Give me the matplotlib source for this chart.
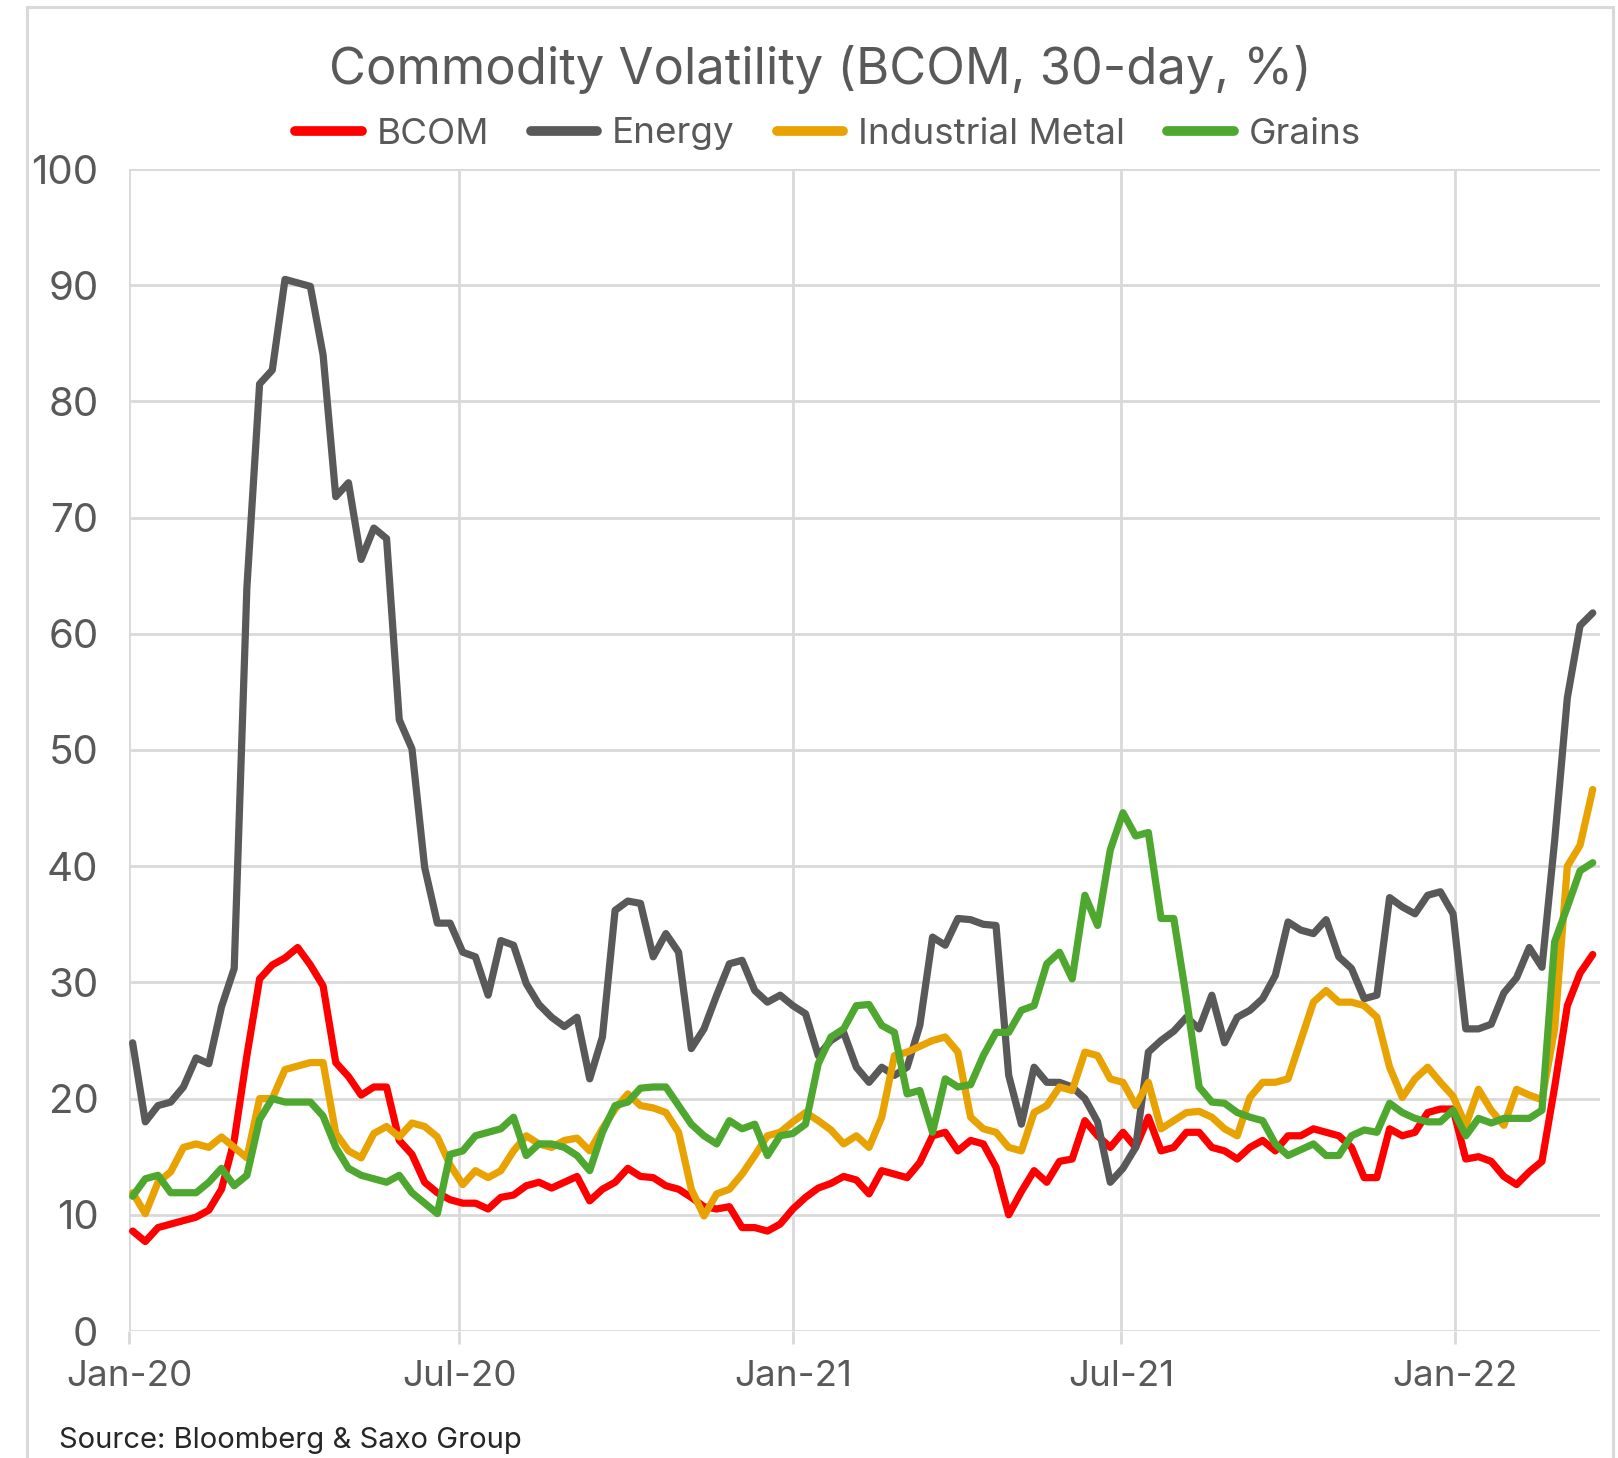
import matplotlib
matplotlib.use("Agg")
import matplotlib.pyplot as plt
from matplotlib.patches import Rectangle
import pandas as pd

# ---- data (weekly readings, 30-day volatility %) ----
start_date = "2020-01-03"
n_weeks = 116

bcom = [8.6, 7.7, 8.9, 9.2, 9.5, 9.8, 10.4, 12.2, 16.4, 23.7,
        30.3, 31.5, 32.1, 33.0, 31.5, 29.7, 23.1, 21.9, 20.3, 21.0,
        21.0, 16.4, 15.2, 12.8, 11.9, 11.3, 11.0, 11.0, 10.5, 11.5,
        11.7, 12.5, 12.8, 12.3, 12.8, 13.3, 11.2, 12.2, 12.8, 14.0,
        13.3, 13.2, 12.5, 12.2, 11.5, 10.7, 10.5, 10.7, 8.9, 8.9,
        8.6, 9.2, 10.5, 11.5, 12.3, 12.7, 13.3, 13.0, 11.8, 13.8,
        13.5, 13.2, 14.5, 16.8, 17.1, 15.5, 16.4, 16.1, 14.1, 10.0,
        12.0, 13.8, 12.8, 14.6, 14.8, 18.1, 16.8, 15.8, 17.1, 15.8,
        18.4, 15.5, 15.8, 17.1, 17.1, 15.8, 15.5, 14.8, 15.8, 16.4,
        15.5, 16.8, 16.8, 17.4, 17.1, 16.8, 15.8, 13.2, 13.2, 17.4,
        16.8, 17.1, 18.8, 19.1, 19.1, 14.8, 15.0, 14.6, 13.3, 12.6,
        13.7, 14.6, 21.0, 28.0, 30.8, 32.4]

energy = [24.8, 18.0, 19.4, 19.7, 21.0, 23.5, 23.0, 27.9, 31.2, 64.0,
          81.5, 82.7, 90.5, 90.2, 89.9, 84.0, 71.8, 73.0, 66.4, 69.1,
          68.2, 52.6, 50.1, 39.9, 35.1, 35.1, 32.6, 32.2, 28.9, 33.6,
          33.2, 29.9, 28.1, 27.0, 26.2, 27.0, 21.7, 25.3, 36.2, 37.0,
          36.8, 32.2, 34.2, 32.6, 24.3, 26.0, 28.9, 31.6, 31.9, 29.3,
          28.3, 28.9, 28.0, 27.3, 23.7, 25.0, 25.7, 22.7, 21.4, 22.7,
          22.0, 22.7, 26.3, 33.9, 33.2, 35.5, 35.4, 35.0, 34.9, 22.0,
          17.8, 22.7, 21.4, 21.4, 21.0, 20.0, 18.0, 12.8, 14.0, 15.8,
          24.0, 25.0, 25.8, 27.0, 26.0, 28.9, 24.8, 27.0, 27.6, 28.6,
          30.6, 35.2, 34.5, 34.2, 35.4, 32.2, 31.2, 28.6, 28.9, 37.3,
          36.5, 35.9, 37.5, 37.8, 35.9, 26.0, 26.0, 26.4, 29.1, 30.4,
          33.0, 31.3, 42.2, 54.5, 60.7, 61.8]

ind_metal = [11.9, 10.1, 12.8, 13.7, 15.8, 16.1, 15.8, 16.7, 15.8, 14.9,
             20.0, 20.0, 22.5, 22.8, 23.1, 23.1, 17.0, 15.5, 14.9, 17.0,
             17.6, 16.7, 17.9, 17.6, 16.7, 14.3, 12.6, 13.8, 13.2, 13.8,
             15.5, 16.8, 16.1, 15.8, 16.4, 16.6, 15.5, 17.4, 19.1, 20.4,
             19.4, 19.2, 18.8, 17.1, 12.2, 9.9, 11.8, 12.2, 13.5, 15.1,
             16.8, 17.1, 18.0, 18.8, 18.1, 17.3, 16.1, 16.8, 15.8, 18.4,
             23.7, 24.0, 24.5, 25.0, 25.3, 24.0, 18.4, 17.4, 17.1, 15.8,
             15.5, 18.8, 19.4, 21.0, 20.7, 24.0, 23.7, 21.7, 21.4, 19.4,
             21.4, 17.4, 18.1, 18.8, 18.9, 18.4, 17.4, 16.8, 20.1, 21.4,
             21.4, 21.7, 25.0, 28.3, 29.3, 28.3, 28.3, 28.0, 27.0, 22.7,
             20.1, 21.7, 22.7, 21.4, 20.2, 17.7, 20.8, 19.0, 17.7, 20.8,
             20.3, 19.9, 26.0, 40.0, 41.8, 46.6]

grains = [11.6, 13.1, 13.4, 11.9, 11.9, 11.9, 12.8, 14.0, 12.5, 13.4,
          18.2, 20.0, 19.7, 19.7, 19.7, 18.5, 15.8, 14.0, 13.4, 13.1,
          12.8, 13.4, 11.9, 11.0, 10.1, 15.2, 15.5, 16.8, 17.1, 17.4,
          18.4, 15.1, 16.1, 16.1, 15.8, 15.1, 13.8, 17.1, 19.4, 19.7,
          20.9, 21.0, 21.0, 19.4, 17.8, 16.8, 16.1, 18.1, 17.4, 17.8,
          15.1, 16.8, 17.0, 17.8, 23.0, 25.3, 26.0, 28.0, 28.1, 26.3,
          25.7, 20.4, 20.7, 17.1, 21.7, 21.0, 21.2, 23.7, 25.7, 25.7,
          27.6, 28.0, 31.6, 32.6, 30.3, 37.5, 34.9, 41.4, 44.6, 42.6,
          42.9, 35.5, 35.5, 28.6, 21.0, 19.7, 19.6, 18.8, 18.4, 18.1,
          16.1, 15.1, 15.6, 16.1, 15.1, 15.1, 16.8, 17.3, 17.1, 19.6,
          18.8, 18.3, 18.0, 18.0, 19.0, 16.8, 18.3, 17.9, 18.3, 18.3,
          18.3, 19.0, 33.5, 36.5, 39.6, 40.3]

series_names = ["BCOM", "Energy", "Industrial Metal", "Grains"]
series_colors = ["#FF0000", "#595959", "#E8A202", "#4EA72E"]
x_tick_dates = ["2020-01-01", "2020-07-01", "2021-01-01", "2021-07-01", "2022-01-01"]
x_tick_labels = ["Jan-20", "Jul-20", "Jan-21", "Jul-21", "Jan-22"]
y_ticks = [0, 10, 20, 30, 40, 50, 60, 70, 80, 90, 100]

title = "Commodity Volatility (BCOM, 30-day, %)"
source = "Source: Bloomberg & Saxo Group"

# ---- figure ----
plt.rcParams["font.family"] = ["Inter", "DejaVu Sans"]
W, H = 1618, 1458
fig = plt.figure(figsize=(W / 100, H / 100), dpi=100)
fig.patch.set_facecolor("white")

# outer chart border
fig.patches.append(Rectangle((27 / W, -0.05), (1613 - 27) / W, 1.05 - 7 / H,
                             transform=fig.transFigure, fill=False,
                             edgecolor="#D9D9D9", linewidth=2.2))

ax = fig.add_axes([129 / W, 1 - 1331 / H, (1600 - 129) / W, (1331 - 169) / H])

dates = pd.date_range(start_date, periods=n_weeks, freq="7D")
grid_c = "#D9D9D9"
text_c = "#595959"

for vals, name, col in zip([bcom, energy, ind_metal, grains], series_names, series_colors):
    ax.plot(dates, vals, color=col, lw=5.2, label=name, solid_joinstyle="round",
            solid_capstyle="round", zorder=3)

ax.set_ylim(0, 100)
ax.set_xlim(pd.Timestamp("2020-01-01"), dates[-1] + pd.Timedelta(days=4))
ax.set_yticks(y_ticks)
ax.set_xticks(pd.to_datetime(x_tick_dates))
ax.set_xticklabels(x_tick_labels)
ax.grid(True, color=grid_c, lw=2.0, zorder=0)
for s in ax.spines.values():
    s.set_visible(False)
ax.tick_params(axis="y", length=0, pad=22, labelsize=29, labelcolor=text_c)
ax.tick_params(axis="x", length=9, width=2.0, color=grid_c, pad=12,
               labelsize=26.5, labelcolor=text_c)
ax.set_axisbelow(True)

fig.text(820 / W, 1 - 69 / H, title, ha="center", va="center", fontsize=36.5, color=text_c)

leg = fig.legend(loc="center", bbox_to_anchor=(828 / W, 1 - 134 / H), ncol=4,
                 frameon=False, fontsize=26.5, handlelength=1.8, handletextpad=0.4,
                 columnspacing=1.15, labelcolor=text_c)
for line in leg.get_lines():
    line.set_linewidth(7)
    line.set_solid_capstyle("round")

fig.text(59 / W, 1 - 1440 / H, source, ha="left", va="center", fontsize=21, color="#262626")

fig.savefig("out.png", dpi=100, facecolor="white")
